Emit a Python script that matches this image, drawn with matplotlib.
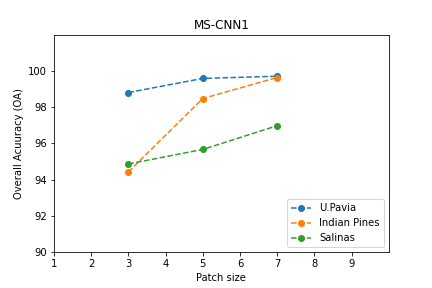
import matplotlib
matplotlib.use("Agg")
import matplotlib.pyplot as plt

patch_sizes = [3, 5, 7]
upavia = [98.80, 99.58, 99.70]
indian_pines = [94.42, 98.47, 99.63]
salinas = [94.86, 95.66, 96.97]

fig, ax = plt.subplots(figsize=(6, 4), dpi=72)
fig.subplots_adjust(left=0.125, right=0.9, bottom=0.125, top=0.88)

ax.plot(patch_sizes, upavia, "o--", label="U.Pavia")
ax.plot(patch_sizes, indian_pines, "o--", label="Indian Pines")
ax.plot(patch_sizes, salinas, "o--", label="Salinas")

ax.set_xlim(1, 10)
ax.set_ylim(90, 102)
ax.set_xticks(range(1, 10))
ax.set_yticks(range(90, 101, 2))
ax.set_xlabel("Patch size")
ax.set_ylabel("Overall Acuuracy (OA)")
ax.set_title("MS-CNN1")
ax.legend(loc="lower right")

fig.savefig("out.png", dpi=72)
